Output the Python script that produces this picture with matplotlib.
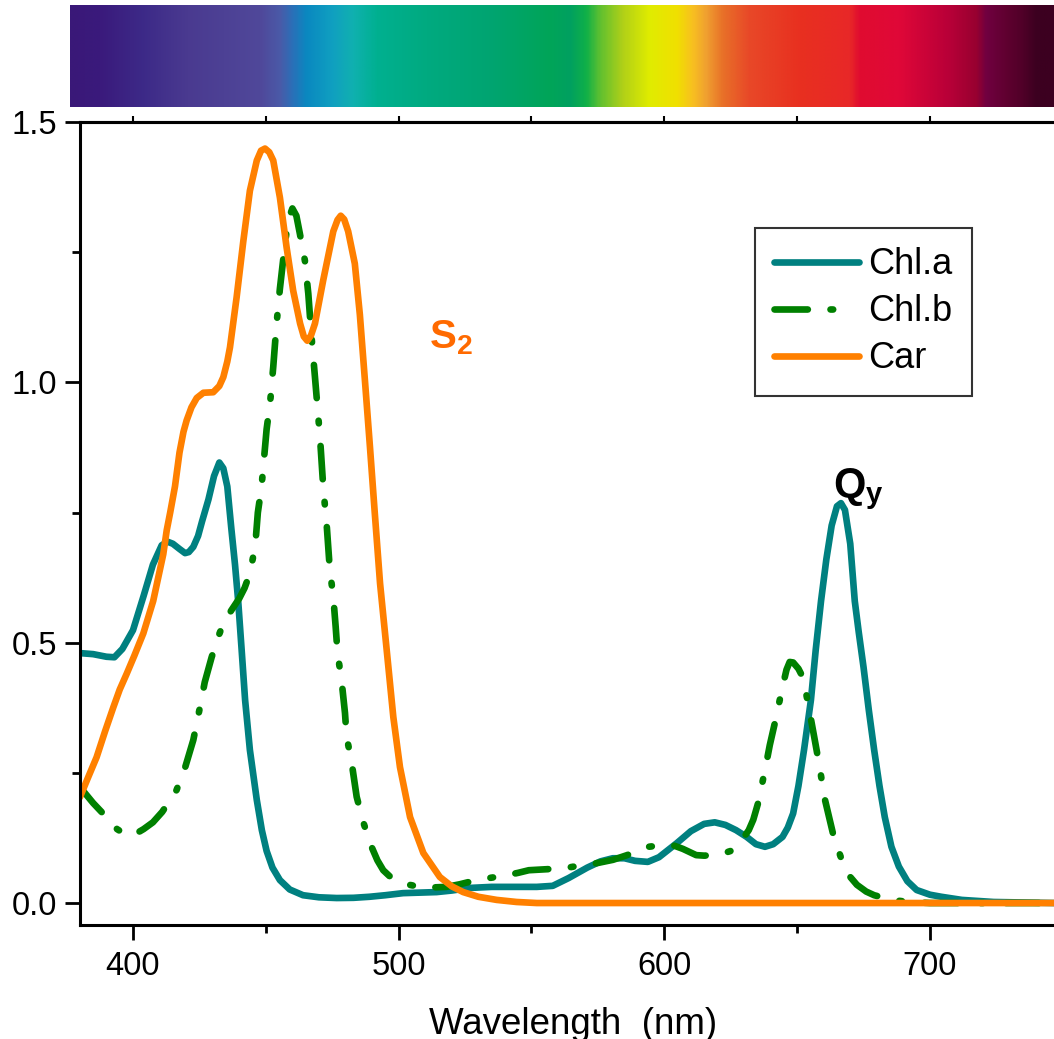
import numpy as np
import matplotlib
matplotlib.use("Agg")
import matplotlib.pyplot as plt
from matplotlib.colors import LinearSegmentedColormap

plt.rcParams['font.family'] = ['Liberation Sans', 'DejaVu Sans']
plt.rcParams['mathtext.fontset'] = 'custom'
plt.rcParams['mathtext.rm'] = 'Liberation Sans'
plt.rcParams['mathtext.bf'] = 'Liberation Sans:bold'

# ---------------- data ----------------
wl_a = [380, 385, 390, 393, 396, 400, 404, 407.5, 410.8, 413, 415, 417.5, 419.6, 421, 422.7,
        424.5, 426, 428.4, 430.5, 432.5, 434, 435.5, 437, 438.4, 439.6, 440.9, 442.2, 444,
        446.6, 448.5, 450.3, 452.5, 455.3, 459, 464, 470, 476.7, 483, 489, 495, 501.7, 508,
        514.3, 520, 526.8, 535, 544.4, 552, 558, 564, 571, 576, 580.6, 585, 589, 593.8, 598,
        604.7, 610, 615, 619, 623, 627, 631, 634.5, 637.9, 641, 644.5, 646.5, 648.5, 650.5,
        652.6, 655.2, 657, 659, 661, 663, 665, 666.5, 668, 670, 671.7, 673.2, 675, 677, 679,
        681, 683, 685.5, 688.3, 691.5, 695, 700, 704.3, 712, 724, 746.7]
abs_a = [0.480, 0.478, 0.473, 0.472, 0.488, 0.524, 0.590, 0.650, 0.687, 0.694, 0.690, 0.680,
         0.672, 0.674, 0.684, 0.705, 0.733, 0.775, 0.820, 0.846, 0.835, 0.800, 0.720, 0.650,
         0.580, 0.486, 0.390, 0.294, 0.198, 0.140, 0.100, 0.068, 0.044, 0.026, 0.015, 0.011,
         0.0096, 0.010, 0.012, 0.015, 0.019, 0.020, 0.021, 0.024, 0.029, 0.031, 0.031, 0.031,
         0.033, 0.048, 0.068, 0.080, 0.086, 0.086, 0.081, 0.079, 0.088, 0.115, 0.138, 0.152,
         0.155, 0.150, 0.140, 0.127, 0.113, 0.108, 0.113, 0.127, 0.145, 0.172, 0.225, 0.294,
         0.390, 0.486, 0.580, 0.660, 0.725, 0.762, 0.768, 0.755, 0.690, 0.580, 0.520, 0.453,
         0.370, 0.294, 0.225, 0.165, 0.108, 0.070, 0.042, 0.025, 0.016, 0.012, 0.006, 0.002,
         0.000]

wl_b = [380, 385, 390, 394, 397.6, 401, 404, 407.5, 411, 414, 416.4, 419.6, 422.7, 425.2, 427,
        429.6, 432, 434, 437, 440, 442, 444, 446, 447, 448.4, 450.3, 451.6, 452.8, 454, 455.3,
        456.5, 458.3, 460, 461.5, 462.8, 464.7, 466, 467, 468.5, 470.4, 471.6, 473, 474.1,
        475.4, 476.3, 477, 478.5, 479.8, 480.4, 482.3, 484.2, 486.7, 489.8, 492, 494.2, 496.5,
        499.2, 503, 508, 513, 518, 523, 529.3, 534, 539.4, 545, 549, 556, 562.6, 566, 570.7,
        575, 580.7, 586, 590, 594, 599, 603.3, 607, 612, 615, 619, 622, 625, 628, 631.8, 633.5,
        635.2, 637.9, 639.7, 641.8, 644.5, 646, 647.2, 648.5, 650.5, 652.3, 654.6, 656.4, 658,
        660.5, 663.8, 667.2, 670, 672.5, 676, 679, 685.6, 692, 700, 746.7]
abs_b = [0.223, 0.192, 0.165, 0.142, 0.130, 0.133, 0.142, 0.155, 0.175, 0.198, 0.217, 0.260,
         0.313, 0.376, 0.424, 0.472, 0.510, 0.537, 0.562, 0.585, 0.605, 0.633, 0.685, 0.750,
         0.800, 0.910, 0.960, 1.030, 1.110, 1.180, 1.234, 1.310, 1.334, 1.320, 1.286, 1.234,
         1.170, 1.100, 1.010, 0.894, 0.800, 0.720, 0.640, 0.588, 0.530, 0.480, 0.428, 0.365,
         0.320, 0.270, 0.204, 0.155, 0.108, 0.082, 0.063, 0.052, 0.044, 0.036, 0.031, 0.030,
         0.031, 0.036, 0.044, 0.048, 0.052, 0.058, 0.063, 0.065, 0.067, 0.070, 0.073, 0.077,
         0.083, 0.092, 0.100, 0.108, 0.111, 0.111, 0.104, 0.092, 0.091, 0.092, 0.095, 0.100,
         0.112, 0.140, 0.160, 0.190, 0.255, 0.303, 0.350, 0.415, 0.448, 0.463, 0.462, 0.450,
         0.432, 0.370, 0.320, 0.275, 0.198, 0.127, 0.077, 0.050, 0.035, 0.022, 0.015, 0.006,
         0.002, 0.000, 0.000]

wl_c = [380, 383, 386.3, 389.5, 392.6, 395, 397.6, 400.5, 403.9, 407.6, 411.4, 412.7, 414,
        415.8, 417.5, 419, 420.2, 422, 424, 426.5, 430.2, 432.5, 434, 435.5, 436.5, 439, 441.5,
        444, 446.6, 448.2, 449.7, 451.3, 452.8, 455.3, 457.8, 460.3, 462.9, 464.3, 465.6, 467,
        468.5, 471.6, 475.4, 477, 478.2, 479.5, 481, 483.5, 485.4, 487.3, 489.2, 491, 493,
        495.5, 498, 500.5, 504.3, 509.3, 515.5, 520, 524.3, 530, 536.9, 544.4, 552, 746.7]
abs_c = [0.203, 0.240, 0.280, 0.330, 0.376, 0.410, 0.440, 0.475, 0.518, 0.580, 0.670, 0.716,
         0.750, 0.800, 0.865, 0.905, 0.927, 0.952, 0.970, 0.980, 0.981, 0.993, 1.010, 1.040,
         1.067, 1.163, 1.270, 1.368, 1.426, 1.445, 1.449, 1.442, 1.426, 1.355, 1.260, 1.176,
         1.113, 1.088, 1.080, 1.090, 1.113, 1.196, 1.290, 1.312, 1.320, 1.313, 1.290, 1.228,
         1.130, 1.004, 0.876, 0.750, 0.614, 0.486, 0.357, 0.261, 0.165, 0.096, 0.050, 0.032,
         0.021, 0.012, 0.006, 0.002, 0.000, 0.000]

series_labels = ["Chl.a", "Chl.b", "Car"]
x_ticks = [400, 500, 600, 700]
y_ticks = [0.0, 0.5, 1.0, 1.5]
y_tick_labels = ["0.0", "0.5", "1.0", "1.5"]

# spectrum bar colour stops (fraction along the bar, colour)
spec_pos = [0.0, 0.03, 0.075, 0.119, 0.193, 0.213, 0.226, 0.24, 0.267, 0.287, 0.312, 0.362,
            0.43, 0.488, 0.508, 0.525, 0.539, 0.562, 0.589, 0.617, 0.633, 0.647, 0.664, 0.691,
            0.742, 0.793, 0.803, 0.843, 0.894, 0.922, 0.932, 0.952, 0.969, 0.983, 1.0]
spec_col = ["#3a1878", "#3a1a7c", "#3d2a88", "#4a3a90", "#50489a", "#4a5aa8", "#2a70b8",
            "#0a88c0", "#10a0c0", "#10b0b0", "#00b090", "#00aa80", "#00a470", "#00a558",
            "#00a060", "#10b048", "#60c030", "#b0d018", "#e0ec00", "#f0e000", "#f8c020",
            "#f0a030", "#e87028", "#e84828", "#e83020", "#e82828", "#e00c30", "#e00838",
            "#b80038", "#980030", "#700040", "#600030", "#500028", "#3c0020", "#3c0020"]

# ---------------- figure ----------------
W, H = 1054, 1039
fig = plt.figure(figsize=(W / 100, H / 100), dpi=100)
fig.patch.set_facecolor("white")

# spectrum bar
axs = fig.add_axes([70 / W, 1 - 107 / H, 984 / W, 102 / H])
cmap = LinearSegmentedColormap.from_list("spec", list(zip(spec_pos, spec_col)), N=1024)
axs.imshow(np.linspace(0, 1, 1200)[None, :], aspect="auto", cmap=cmap,
           extent=[0, 1, 0, 1], interpolation="bilinear")
axs.set_axis_off()

# main axes
ax = fig.add_axes([80 / W, 1 - 925 / H, 974 / W, 803 / H])
lw = 4.8
ax.plot(wl_a, abs_a, color="#008080", lw=lw, label=series_labels[0],
        solid_capstyle="round", solid_joinstyle="round")
lb, = ax.plot(wl_b, abs_b, color="#008000", lw=lw, label=series_labels[1],
              dash_capstyle="round", dash_joinstyle="round")
lb.set_dashes([5.0, 3.4, 0.4, 3.4])
ax.plot(wl_c, abs_c, color="#ff8000", lw=lw, label=series_labels[2],
        solid_capstyle="round", solid_joinstyle="round")

ax.set_xlim(380.05, 746.7)
ax.set_ylim(-0.0422, 1.5)

ax.set_xticks(x_ticks)
ax.set_xticklabels([str(t) for t in x_ticks])
ax.set_xticks([450, 550, 650], minor=True)
ax.set_yticks(y_ticks)
ax.set_yticklabels(y_tick_labels)
ax.set_yticks([0.25, 0.75, 1.25], minor=True)

for s in ["left", "bottom", "top"]:
    ax.spines[s].set_linewidth(2.2)
ax.spines["right"].set_visible(False)

ax.tick_params(axis="both", which="major", direction="out", length=10.5, width=2.0,
               labelsize=23.5, pad=6)
ax.tick_params(axis="both", which="minor", direction="out", length=5.5, width=2.0)
ax.tick_params(axis="x", which="both", top=False)
ax.tick_params(axis="x", which="major", pad=8)

sec = ax.secondary_xaxis("top")
sec.set_xticks(list(range(400, 750, 50)))
sec.tick_params(direction="out", length=4, width=1.5, labeltop=False)
sec.spines["top"].set_linewidth(2.2)

# annotations
ax.text(511.5, 1.065, r"$\mathbf{S_2}$", color="#ff6a00", fontsize=29,
        ha="left", va="baseline")
ax.text(663.5, 0.779, r"$\mathbf{Q_y}$", color="black", fontsize=30,
        ha="left", va="baseline")

leg = ax.legend(loc="upper left", bbox_to_anchor=(0.693, 0.868), borderaxespad=0,
                fontsize=26, frameon=True, fancybox=False, shadow=False,
                handlelength=2.35, handletextpad=0.25, labelspacing=0.33,
                borderpad=0.54)
leg.get_frame().set_edgecolor("black")
leg.get_frame().set_linewidth(1.5)
leg.legend_handles[1].set_dashes((5.0, 3.4, 0.4, 6.0))

fig.text(573 / W, 1 - 1034 / H, "Wavelength  (nm)", fontsize=26.5, ha="center",
         va="baseline")

fig.savefig("out.png", dpi=100)
